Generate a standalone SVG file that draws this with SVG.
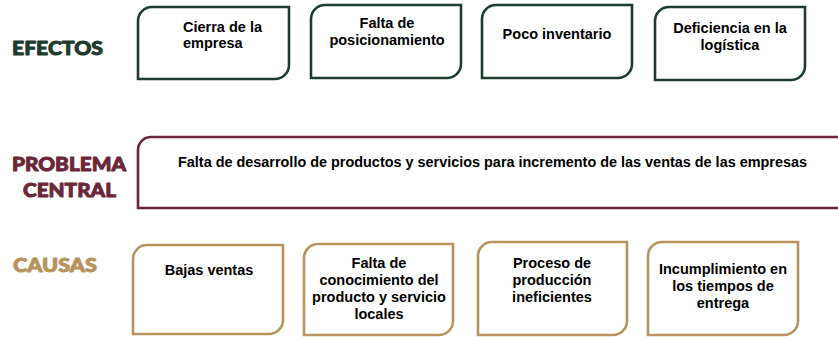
<svg xmlns="http://www.w3.org/2000/svg" width="838" height="337" viewBox="0 0 838 337">
<style>
.lbl{font-family:"Lato","Open Sans","Liberation Sans",sans-serif;font-weight:900;font-size:18.5px;stroke-width:0.9;stroke-linejoin:round}
.t{font-family:"Liberation Sans",Arial,sans-serif;font-weight:bold;font-size:14.5px;fill:#000}
.c{text-anchor:middle}
.box{fill:#fff;stroke-width:2.6}
.ef{stroke:#1e3c2e}
.pr{stroke:#6b2737}
.ca{stroke:#b8935e}
</style>
<rect width="838" height="337" fill="#fff"/>
<g id="labels">
<text class="lbl" x="12" y="55" fill="#1e3c2e" stroke="#1e3c2e" textLength="91" lengthAdjust="spacingAndGlyphs">EFECTOS</text>
<text class="lbl" x="12" y="171" fill="#6b2737" stroke="#6b2737" textLength="114" lengthAdjust="spacingAndGlyphs">PROBLEMA</text>
<text class="lbl" x="23" y="197" fill="#6b2737" stroke="#6b2737" textLength="93" lengthAdjust="spacingAndGlyphs">CENTRAL</text>
<text class="lbl" x="13" y="272" fill="#b8935e" stroke="#b8935e" textLength="84" lengthAdjust="spacingAndGlyphs">CAUSAS</text>
</g>
<g id="efecto1">
<path class="box ef" d="M152,7 H289 V65 A14,14 0 0 1 275,79 H138 V21 A14,14 0 0 1 152,7 Z"/>
<text class="t" x="183" y="32">Cierra de la</text>
<text class="t" x="183" y="48">empresa</text>
</g>
<g id="efecto2">
<path class="box ef" d="M325,5 H461 V64 A14,14 0 0 1 447,78 H311 V19 A14,14 0 0 1 325,5 Z"/>
<text class="t c" x="387" y="28">Falta de</text>
<text class="t c" x="387" y="45">posicionamiento</text>
</g>
<g id="efecto3">
<path class="box ef" d="M496,5 H632 V64 A14,14 0 0 1 618,78 H482 V19 A14,14 0 0 1 496,5 Z"/>
<text class="t c" x="557" y="39">Poco inventario</text>
</g>
<g id="efecto4">
<path class="box ef" d="M669,7 H805 V66 A14,14 0 0 1 791,80 H655 V21 A14,14 0 0 1 669,7 Z"/>
<text class="t c" x="730" y="33">Deficiencia en la</text>
<text class="t c" x="730" y="50">logística</text>
</g>
<g id="problema">
<path class="box pr" d="M151,137 H860 V208 H138 V150 A13,13 0 0 1 151,137 Z"/>
<text class="t" x="178" y="167" textLength="629" lengthAdjust="spacingAndGlyphs">Falta de desarrollo de productos y servicios para incremento de las ventas de las empresas</text>
</g>
<g id="causa1">
<path class="box ca" d="M147,245 H283 V320 A14,14 0 0 1 269,334 H133 V259 A14,14 0 0 1 147,245 Z"/>
<text class="t c" x="209" y="275">Bajas ventas</text>
</g>
<g id="causa2">
<path class="box ca" d="M318,244 H453 V321 A14,14 0 0 1 439,335 H304 V258 A14,14 0 0 1 318,244 Z"/>
<text class="t c" x="379" y="268">Falta de</text>
<text class="t c" x="379" y="285">conocimiento del</text>
<text class="t c" x="379" y="302">producto y servicio</text>
<text class="t c" x="379" y="319">locales</text>
</g>
<g id="causa3">
<path class="box ca" d="M492,242 H627 V321 A14,14 0 0 1 613,335 H478 V256 A14,14 0 0 1 492,242 Z"/>
<text class="t c" x="552" y="268">Proceso de</text>
<text class="t c" x="552" y="285">producción</text>
<text class="t c" x="552" y="302">ineficientes</text>
</g>
<g id="causa4">
<path class="box ca" d="M662,242 H798 V321 A14,14 0 0 1 784,335 H648 V256 A14,14 0 0 1 662,242 Z"/>
<text class="t c" x="723" y="274">Incumplimiento en</text>
<text class="t c" x="723" y="291">los tiempos de</text>
<text class="t c" x="723" y="308">entrega</text>
</g>
<g id="connectors"></g>
</svg>
